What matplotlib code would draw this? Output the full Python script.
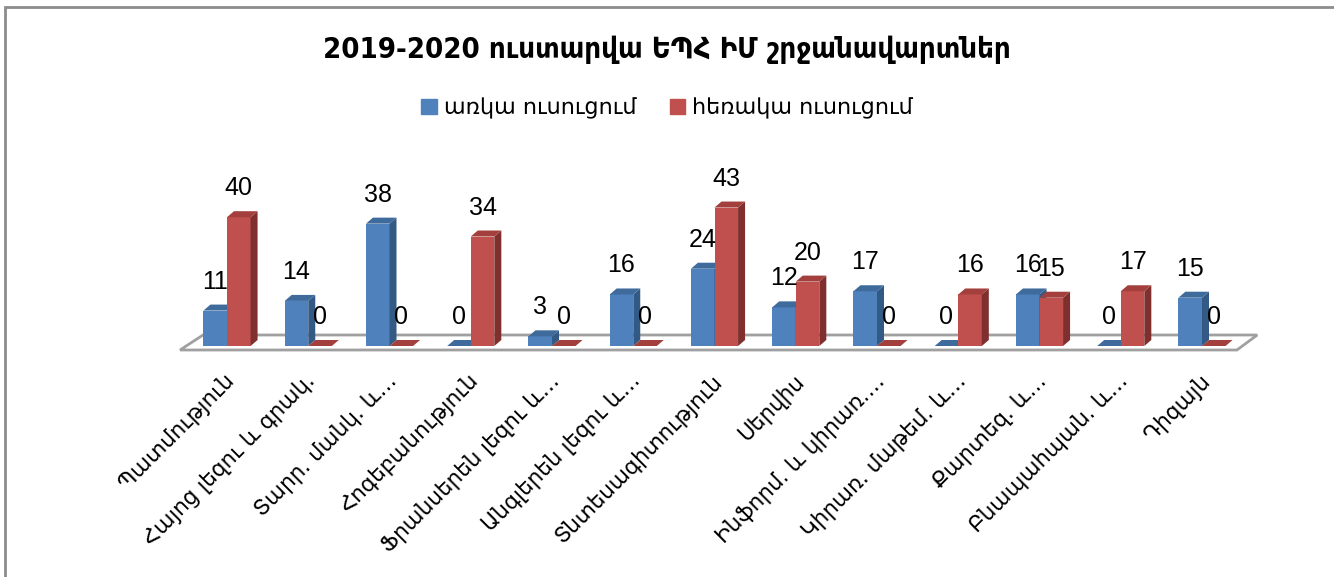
import matplotlib
matplotlib.use('Agg')
import matplotlib.pyplot as plt
from matplotlib.patches import Polygon, Rectangle

# data
categories = ['Պատմություն', 'Հայոց լեզու և գրակ.', 'Տարր. մանկ. և…', 'Հոգեբանություն',
              'Ֆրանսերեն լեզու և…', 'Անգլերեն լեզու և…', 'Տնտեսագիտություն', 'Սերվիս',
              'Ինֆորմ. և կիրառ.…', 'Կիրառ. մաթեմ. և…', 'Քարտեզ. և…', 'Բնապահպան. և…', 'Դիզայն']
full_time = [11, 14, 38, 0, 3, 16, 24, 12, 17, 0, 16, 0, 15]
distance = [40, 0, 0, 34, 0, 0, 43, 20, 0, 16, 15, 17, 0]
series_names = ['առկա ուսուցում', 'հեռակա ուսուցում']
title = '2019-2020 ուստարվա ԵՊՀ ԻՄ շրջանավարտներ'

colors = {'front': ['#4F81BD', '#C0504D'],
          'side': ['#335A85', '#7F2F2D'],
          'top': ['#3E6A9C', '#A33F3C']}

W, H = 1334, 577
fig = plt.figure(figsize=(W / 100, H / 100), dpi=100)
ax = fig.add_axes([0, 0, 1, 1])
# pixel geometry -> data units
px_x = 81.25   # px per category
px_y = 3.22    # px per unit value
x0_px, y0_px = 227, 346
ax.set_xlim(-x0_px / px_x, (W - x0_px) / px_x)
ax.set_ylim(-(H - y0_px) / px_y, y0_px / px_y)
ax.axis('off')

dx = 7 / px_x   # bar depth
dy = 6 / px_y
bw = 0.29

# floor
floor = Polygon([(-0.578, -4 / px_y), (12.43, -4 / px_y),
                 (12.68, 11 / px_y), (-0.295, 11 / px_y)],
                closed=True, facecolor='white', edgecolor='#A0A0A0', lw=2, zorder=1)
ax.add_patch(floor)

for i in range(len(categories)):
    for s, vals in enumerate([full_time, distance]):
        v = vals[i]
        left = i - bw if s == 0 else i
        right = left + bw
        ax.bar(left, v, width=bw, align='edge', color=colors['front'][s], zorder=3 + i)
        side = Polygon([(right, 0), (right + dx, dy), (right + dx, v + dy), (right, v)],
                       closed=True, facecolor=colors['side'][s], edgecolor='none', zorder=3 + i)
        top = Polygon([(left, v), (right, v), (right + dx, v + dy), (left + dx, v + dy)],
                      closed=True, facecolor=colors['top'][s], edgecolor='none', zorder=3 + i)
        ax.add_patch(side)
        ax.add_patch(top)
        ax.text(left + bw / 2, v + 17 / px_y, str(v), ha='center', va='bottom',
                fontsize=18, family='Liberation Sans', color='black', zorder=20)

for i, lab in enumerate(categories):
    ax.text(i - 0.04, -24 / px_y, lab, rotation=45, rotation_mode='anchor', ha='right', va='top',
            fontsize=15.5, color='black')

fig.text(0.5, 1 - 50 / H, title, ha='center', va='center', fontsize=21,
         fontweight='bold', fontstretch='condensed')

handles = [Rectangle((0, 0), 1, 1, color=c) for c in colors['front']]
fig.legend(handles, series_names, loc='center', bbox_to_anchor=(0.5, 1 - 108 / H),
           ncol=2, frameon=False, fontsize=16, handlelength=0.7, handleheight=0.7,
           handletextpad=0.3, columnspacing=1.5)

# chart border
fig.patches.append(Rectangle((5 / W, -0.05), 1.2, 1 - 7 / H + 0.05, transform=fig.transFigure,
                             fill=False, edgecolor='#8C8C8C', lw=2))

fig.savefig('out.png', dpi=100)
